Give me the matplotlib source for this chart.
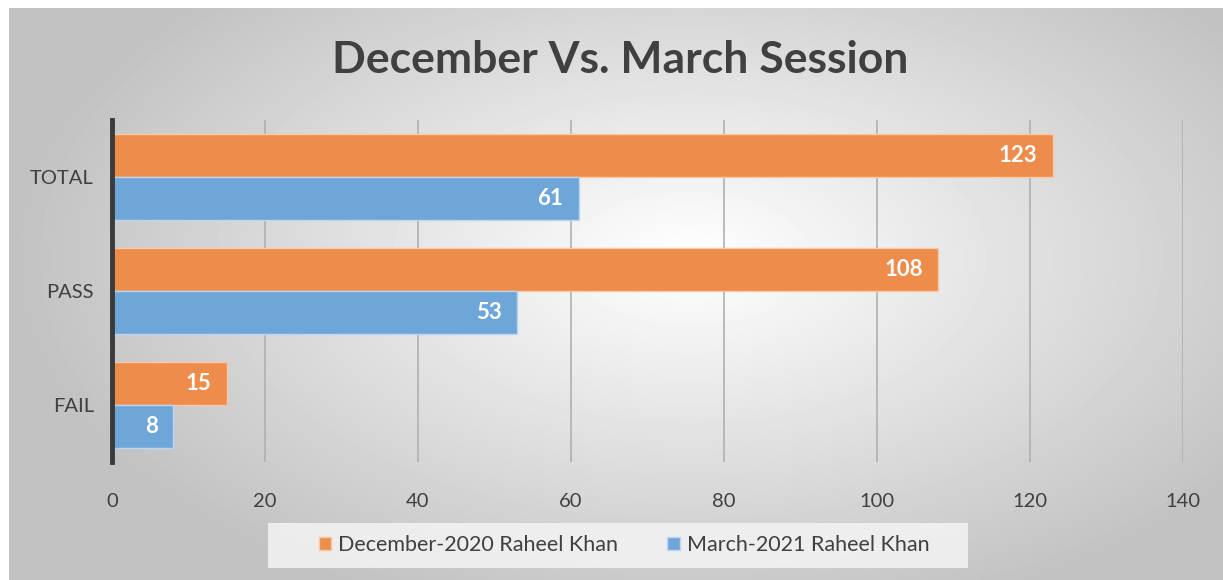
import numpy as np
import matplotlib.pyplot as plt
from matplotlib.patches import Rectangle

categories = ['TOTAL', 'PASS', 'FAIL']
december = [123, 108, 15]
march = [61, 53, 8]
series_names = ['December-2020 Raheel Khan', 'March-2021 Raheel Khan']
xticks = [0, 20, 40, 60, 80, 100, 120, 140]

plt.rcParams['font.family'] = ['Lato', 'DejaVu Sans']
txt = '#404040'

fig = plt.figure(figsize=(12.23, 5.8), dpi=100)

# radial gradient background panel
bg = fig.add_axes([9 / 1223, 0, 1214 / 1223, 572 / 580])
bg.axis('off')
yy, xx = np.mgrid[0:572, 0:1214]
r = np.sqrt(((xx - 680) / 760.0) ** 2 + ((yy - 250) / 420.0) ** 2)
val = np.clip(1.0 - 0.27 * r, 0.76, 1.0)
bg.imshow(val, cmap='gray', vmin=0, vmax=1, aspect='auto', interpolation='bilinear')

# legend band
fig.patches.append(Rectangle((268 / 1223, 1 - 568 / 580), 700 / 1223, 45 / 580,
                             transform=fig.transFigure, facecolor='#f4f4f4',
                             edgecolor='none', alpha=0.85, zorder=1))

ax = fig.add_axes([112 / 1223, (580 - 462) / 580, (1183 - 112) / 1223, 342 / 580])
ax.set_facecolor('none')

y = np.arange(len(categories))
h = 0.377
b1 = ax.barh(y - h / 2, december, height=h, color='#EE8C4B', edgecolor='#F6C9A8',
             linewidth=1, label=series_names[0], zorder=3)
b2 = ax.barh(y + h / 2, march, height=h, color='#6FA6DA', edgecolor='#BCD6EF',
             linewidth=1, label=series_names[1], zorder=3)

for bars, vals in ((b1, december), (b2, march)):
    for bar, v in zip(bars, vals):
        ax.text(v - 2.0, bar.get_y() + bar.get_height() / 2, str(v), ha='right', va='center',
                color='white', fontsize=16, fontweight='bold', zorder=4)

ax.set_ylim(2.5, -0.5)
ax.set_xlim(0, 140)
ax.set_xticks(xticks)
ax.set_yticks(y)
ax.set_yticklabels(categories)
ax.tick_params(axis='both', length=0, labelsize=14.5, colors=txt)
ax.tick_params(axis='y', pad=13)
ax.tick_params(axis='x', pad=22)
ax.grid(axis='x', color='#b0b0b0', linewidth=1.2, zorder=0)
for s in ['top', 'right', 'bottom']:
    ax.spines[s].set_visible(False)
ax.spines['left'].set_color('#3a3a3a')
ax.spines['left'].set_linewidth(3.5)
ax.spines['left'].set_zorder(5)

fig.text(620 / 1223, 1 - 60 / 580, 'December Vs. March Session', ha='center', va='center',
         fontsize=32, fontweight='bold', color=txt)

leg = fig.legend(loc='center', bbox_to_anchor=(624 / 1223, 1 - 545 / 580), ncol=2,
                 frameon=False, fontsize=15.5, handlelength=0.6, handleheight=0.6,
                 handletextpad=0.3, columnspacing=2.3, borderpad=0.6)
for t in leg.get_texts():
    t.set_color(txt)

fig.savefig('out.png', dpi=100)
